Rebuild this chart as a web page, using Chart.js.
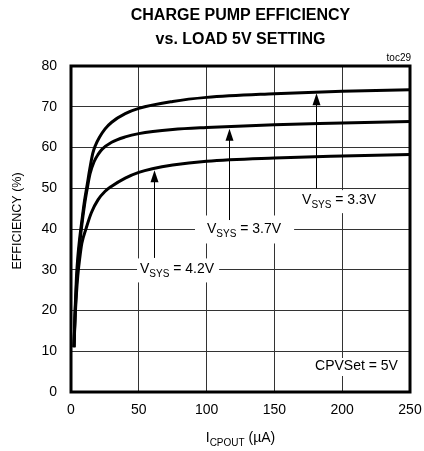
<!DOCTYPE html>
<html><head><meta charset="utf-8">
<script src="https://cdn.jsdelivr.net/npm/chart.js@4"></script>
<style>html,body{margin:0;padding:0;background:#fff}#wrap{width:424px;height:451px}</style>
</head><body><div id="wrap"><canvas id="c" width="424" height="451"></canvas></div>
<script>
// ---- data ----
const xTicks = [0, 50, 100, 150, 200, 250];
const yTicks = [0, 10, 20, 30, 40, 50, 60, 70, 80];

const load33 = [2.2, 3, 4, 5, 6.5, 8, 10, 12, 14, 16, 18, 21, 25, 30, 40, 50, 75, 100, 150, 200, 250];
const eff33  = [11, 20, 28, 33, 38, 42, 47, 51, 55, 58.5, 60.5, 62.5, 64.5, 66.2, 68.3, 69.6, 71.3, 72.3, 73.2, 73.8, 74.2];

const load37 = [2.2, 3, 4, 5, 6.5, 8, 10, 12, 14, 17, 20, 23, 30, 40, 50, 75, 100, 150, 200, 250];
const eff37  = [11, 19, 26, 31, 36.5, 41, 46, 50, 53.5, 56.5, 58.3, 59.6, 61.3, 62.6, 63.4, 64.4, 64.9, 65.6, 66, 66.4];

const load42 = [2.2, 3, 4, 5, 6.5, 8, 11, 15, 20, 25, 30, 40, 50, 60, 75, 100, 150, 200, 250];
const eff42  = [11, 18, 24, 28.5, 33, 36.5, 40, 44, 47.2, 49.2, 50.5, 52.5, 53.9, 54.8, 55.7, 56.6, 57.4, 57.9, 58.3];

const titleLines = ['CHARGE PUMP EFFICIENCY', 'vs. LOAD 5V SETTING'];
const tocLabel = 'toc29';

// annotation texts (parts: [text, isSubscript]) and anchors in data units
const notes = [
  {parts: [['V',0],['SYS',1],[' = 3.3V',0]], x: 170.4, base: 46.1, arrowX: 181, arrowFrom: 50, arrowTo: 73.3, padL: 4, padR: 4, up: 14, down: 9},
  {parts: [['V',0],['SYS',1],[' = 3.7V',0]], x: 100.3, base: 38.9, arrowX: 116.8, arrowFrom: 42.2, arrowTo: 64.6, padL: 12, padR: 13, up: 18, down: 10},
  {parts: [['V',0],['SYS',1],[' = 4.2V',0]], x: 50.9, base: 29.1, arrowX: 61.2, arrowFrom: 32.9, arrowTo: 54.4, padL: 3, padR: 5, up: 15, down: 9},
  {parts: [['CPVSet = 5V',0]], x: 180, base: 5.4, padL: 3, padR: 3, up: 12, down: 6}
];
const xTitle = [['I',0],['CPOUT',1],[' (\u00B5A)',0]];
const yTitle = 'EFFICIENCY (%)';

// ---- drawing helpers ----
const FONT = "'Liberation Sans', Arial, Helvetica, sans-serif";
const MAIN = '14px ' + FONT, SUB = '10px ' + FONT;
function partsWidth(ctx, parts) {
  let w = 0;
  for (const [t, s] of parts) { ctx.font = s ? SUB : MAIN; w += ctx.measureText(t).width; }
  return w;
}
function drawParts(ctx, parts, x, baseY) {
  ctx.textBaseline = 'alphabetic'; ctx.textAlign = 'left';
  for (const [t, s] of parts) {
    ctx.font = s ? SUB : MAIN;
    ctx.fillText(t, x, baseY + (s ? 4 : 0));
    x += ctx.measureText(t).width;
  }
}

const decor = {
  id: 'decor',
  afterDatasetsDraw(chart) {
    const ctx = chart.ctx, xs = chart.scales.x, ys = chart.scales.y, a = chart.chartArea;
    ctx.save();
    ctx.fillStyle = '#000'; ctx.strokeStyle = '#000';
    for (const n of notes) {
      const px = xs.getPixelForValue(n.x), py = ys.getPixelForValue(n.base);
      const w = partsWidth(ctx, n.parts);
      ctx.fillStyle = '#fff';
      ctx.fillRect(px - n.padL, py - n.up, w + n.padL + n.padR, n.up + n.down);
      ctx.fillStyle = '#000';
      drawParts(ctx, n.parts, px, py);
      if (n.arrowX !== undefined) {
        const ax = Math.round(xs.getPixelForValue(n.arrowX)) + 0.5;
        const y0 = ys.getPixelForValue(n.arrowFrom), y1 = ys.getPixelForValue(n.arrowTo);
        ctx.lineWidth = 1;
        ctx.beginPath(); ctx.moveTo(ax, y0); ctx.lineTo(ax, y1 + 10); ctx.stroke();
        ctx.beginPath(); ctx.moveTo(ax, y1); ctx.lineTo(ax - 4, y1 + 12); ctx.lineTo(ax + 4, y1 + 12); ctx.closePath(); ctx.fill();
      }
    }
    // frame
    ctx.lineWidth = 3;
    ctx.strokeRect(a.left, a.top, a.right - a.left, a.bottom - a.top);
    // title
    const cx = (a.left + a.right) / 2;
    ctx.textAlign = 'center'; ctx.textBaseline = 'middle';
    ctx.font = 'bold 16px ' + FONT;
    ctx.fillText(titleLines[0], cx, 16);
    ctx.fillText(titleLines[1], cx, 40);
    // toc label
    ctx.font = '10px ' + FONT; ctx.textAlign = 'right';
    ctx.fillText(tocLabel, a.right + 1, 58);
    // x title
    const xw = partsWidth(ctx, xTitle);
    drawParts(ctx, xTitle, cx - xw / 2, 441.5);
    // y title
    ctx.save();
    ctx.translate(18, (a.top + a.bottom) / 2 - 8);
    ctx.rotate(-Math.PI / 2);
    ctx.font = '12.5px ' + FONT; ctx.textAlign = 'center'; ctx.textBaseline = 'middle';
    ctx.fillText(yTitle, 0, 0);
    ctx.restore();
    ctx.restore();
  }
};

function series(xa, ya) { return xa.map((v, i) => ({x: v, y: ya[i]})); }
const lineStyle = {borderColor: '#000', borderWidth: 3, pointRadius: 0, fill: false, cubicInterpolationMode: 'monotone'};

new Chart(document.getElementById('c'), {
  type: 'line',
  data: {datasets: [
    Object.assign({label: 'VSYS = 3.3V', data: series(load33, eff33)}, lineStyle),
    Object.assign({label: 'VSYS = 3.7V', data: series(load37, eff37)}, lineStyle),
    Object.assign({label: 'VSYS = 4.2V', data: series(load42, eff42)}, lineStyle)
  ]},
  options: {
    responsive: false, animation: false, devicePixelRatio: 1,
    layout: {padding: {left: 0, right: 14, top: 66, bottom: 0}},
    plugins: {legend: {display: false}, title: {display: false}, tooltip: {enabled: false}},
    scales: {
      x: {
        type: 'linear', min: 0, max: 250,
        afterBuildTicks: s => { s.ticks = xTicks.map(v => ({value: v})); },
        afterFit: s => { s.height = 59; s.paddingLeft = 0; s.paddingRight = 0; },
        grid: {color: '#333', lineWidth: 1, drawTicks: false},
        border: {display: false},
        ticks: {color: '#000', padding: 10, maxRotation: 0, font: {family: FONT, size: 14}}
      },
      y: {
        type: 'linear', min: 0, max: 80,
        afterBuildTicks: s => { s.ticks = yTicks.map(v => ({value: v})); },
        afterFit: s => { s.width = 71; s.paddingTop = 0; s.paddingBottom = 0; },
        grid: {color: '#333', lineWidth: 1, drawTicks: false},
        border: {display: false},
        ticks: {color: '#000', padding: 14, font: {family: FONT, size: 14}}
      }
    }
  },
  plugins: [decor]
});
</script>
</body></html>
